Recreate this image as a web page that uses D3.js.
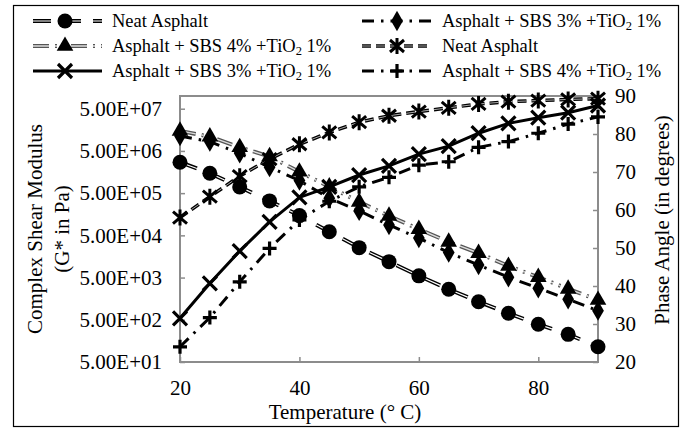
<!DOCTYPE html>
<html><head><meta charset="utf-8">
<script src="https://cdn.jsdelivr.net/npm/d3@7"></script>
<style>body{margin:0;background:#fff}svg{display:block}text{font-family:"Liberation Serif","Times New Roman",serif;fill:#000}</style>
</head><body><svg id="c" width="683" height="428"></svg>
<script>
const temps = [20,25,30,35,40,45,50,55,60,65,70,75,80,85,90];
const gNeat = [2.7e6,1.48e6,7.0e5,3.27e5,1.47e5,6.1e4,2.56e4,1.19e4,5.5e3,2.64e3,1.34e3,713,391,226,115];
const gSbs4 = [1.49e7,1.09e7,6.1e6,3.7e6,1.6e6,7.1e5,3.1e5,1.44e5,7.0e4,3.5e4,1.9e4,9.4e3,5.1e3,2.7e3,1.47e3];
const gSbs3 = [1.13e7,8.3e6,4.4e6,2.06e6,9.9e5,3.8e5,1.9e5,8.8e4,4.3e4,1.95e4,9.9e3,5.1e3,2.8e3,1.53e3,822];
const phNeat = [58,63.5,68.9,73.4,77.3,80.4,83.1,84.8,85.9,86.9,87.9,88.5,88.8,89.1,89.3];
const phSbs3 = [31.5,40.7,49.2,56.9,63.3,66.1,69.2,71.6,74.7,76.8,80.2,82.8,84.3,85.6,87.5];
const phSbs4 = [24.0,31.7,41.1,49.9,57.4,62.3,66.1,68.6,71.8,72.7,76.5,78.0,80.2,82.6,84.5];
const leftTicks = [5e1,5e2,5e3,5e4,5e5,5e6,5e7];
const leftTickLabels = ["5.00E+01","5.00E+02","5.00E+03","5.00E+04","5.00E+05","5.00E+06","5.00E+07"];
const rightTicks = [20,30,40,50,60,70,80,90];
const xTicks = [20,40,60,80];

const svg = d3.select("#c");
const L=180,R=598,T=96,B=362;
const x = d3.scaleLinear().domain([20,90]).range([L,R]);
const yL = d3.scaleLog().domain([50,1e8]).range([B,T]);
const yR = d3.scaleLinear().domain([20,90]).range([B,T]);

// outer border
svg.append("rect").attr("x",13.5).attr("y",5.5).attr("width",665).attr("height",421).attr("fill","none").attr("stroke","#000").attr("stroke-width",1.2);

// plot frame
svg.append("rect").attr("x",L).attr("y",T).attr("width",R-L).attr("height",B-T).attr("fill","none").attr("stroke","#8c8c8c").attr("stroke-width",2);

// axes
const ax = svg.append("g").attr("transform",`translate(0,${B})`).call(d3.axisBottom(x).tickValues(xTicks).tickSizeInner(-5).tickSizeOuter(0).tickPadding(18));
const al = svg.append("g").attr("transform",`translate(${L},0)`).call(d3.axisLeft(yL).tickValues(leftTicks).tickFormat((d,i)=>leftTickLabels[i]).tickSizeInner(-5).tickSizeOuter(0).tickPadding(18));
const ar = svg.append("g").attr("transform",`translate(${R},0)`).call(d3.axisRight(yR).tickValues(rightTicks).tickSizeInner(-5).tickSizeOuter(0).tickPadding(17));
[ax,al,ar].forEach(g=>{g.select(".domain").remove();g.selectAll(".tick line").attr("stroke","#8c8c8c").attr("stroke-width",1.5);g.selectAll("text").attr("font-family","Liberation Serif").attr("font-size",21).attr("fill","#000");});

// axis titles
svg.append("text").attr("transform","translate(42,229) rotate(-90)").attr("text-anchor","middle").attr("font-size",21).text("Complex Shear Modulus");
svg.append("text").attr("transform","translate(69,229) rotate(-90)").attr("text-anchor","middle").attr("font-size",21).text("(G* in Pa)");
svg.append("text").attr("transform","translate(669,220) rotate(-90)").attr("text-anchor","middle").attr("font-size",21).text("Phase Angle (in degrees)");
svg.append("text").attr("x",345).attr("y",419).attr("text-anchor","middle").attr("font-size",21).text("Temperature (° C)");

// markers
function marker(g,type,cx,cy){
  if(type==="circle") g.append("circle").attr("cx",cx).attr("cy",cy).attr("r",7.5).attr("fill","#000");
  else if(type==="triangle") g.append("path").attr("d",d3.symbol(d3.symbolTriangle,120)()).attr("transform",`translate(${cx},${cy})`).attr("fill","#000");
  else if(type==="diamond") g.append("path").attr("d",d3.symbol(d3.symbolDiamond,120)()).attr("transform",`translate(${cx},${cy})`).attr("fill","#000");
  else if(type==="x") g.append("path").attr("d","M-7,-7L7,7M-7,7L7,-7").attr("transform",`translate(${cx},${cy})`).attr("stroke","#000").attr("stroke-width",3.2).attr("fill","none");
  else if(type==="plus") g.append("path").attr("d","M-7,0L7,0M0,-7L0,7").attr("transform",`translate(${cx},${cy})`).attr("stroke","#000").attr("stroke-width",3.2).attr("fill","none");
  else if(type==="star") g.append("path").attr("d","M0,-8L0,8M-7,-6L7,6M-7,6L7,-6").attr("transform",`translate(${cx},${cy})`).attr("stroke","#000").attr("stroke-width",3).attr("fill","none");
}

const series = [
  {name:"Neat Asphalt", vals:gNeat, axis:"L", m:"circle", outer:"#000", inner:"#fff", w:4, wi:1.2, dash:"18,12"},
  {name:"Asphalt + SBS 4% +TiO|2| 1%", vals:gSbs4, axis:"L", m:"triangle", outer:"#555", inner:"#ddd", w:4, wi:1.4, dash:"16,6,2,6,2,6"},
  {name:"Asphalt + SBS 3% +TiO|2| 1%", vals:phSbs3, axis:"R", m:"x", outer:"#000", inner:null, w:3, dash:null},
  {name:"Asphalt + SBS 3% +TiO|2| 1%", vals:gSbs3, axis:"L", m:"diamond", outer:"#000", inner:null, w:3, dash:"12,7,2.5,7"},
  {name:"Neat Asphalt", vals:phNeat, axis:"R", m:"star", outer:"#000", inner:"#aaa", w:3.5, wi:1, dash:"9,5"},
  {name:"Asphalt + SBS 4% +TiO|2| 1%", vals:phSbs4, axis:"R", m:"plus", outer:"#000", inner:null, w:3, dash:"12,7,2.5,7"}
];

const plot = svg.append("g");
series.forEach(s=>{
  const yS = s.axis==="L"?yL:yR;
  const line = d3.line().x((d,i)=>x(temps[i])).y(d=>yS(d));
  const p = plot.append("path").datum(s.vals).attr("d",line).attr("fill","none").attr("stroke",s.outer).attr("stroke-width",s.w);
  if(s.dash) p.attr("stroke-dasharray",s.dash);
  if(s.inner){const q=plot.append("path").datum(s.vals).attr("d",line).attr("fill","none").attr("stroke",s.inner).attr("stroke-width",s.wi); if(s.dash) q.attr("stroke-dasharray",s.dash);}
});
series.forEach(s=>{
  const yS = s.axis==="L"?yL:yR;
  const g = plot.append("g");
  s.vals.forEach((v,i)=>marker(g,s.m,x(temps[i]),yS(v)));
});

// legend
const legPos = [[0,0],[0,1],[0,2],[1,0],[1,1],[1,2]];
const lineX0=[33,362], lineX1=[102,432], markX=[65,397], textX=[112,442], rowY=[21,46,71];
series.forEach((s,k)=>{
  const [c,r]=legPos[k];
  const g=svg.append("g");
  const y0=rowY[r];
  const l=g.append("line").attr("x1",lineX0[c]).attr("x2",lineX1[c]).attr("y1",y0).attr("y2",y0).attr("stroke",s.outer).attr("stroke-width",s.w);
  if(s.dash) l.attr("stroke-dasharray",s.dash);
  if(s.inner){const q=g.append("line").attr("x1",lineX0[c]).attr("x2",lineX1[c]).attr("y1",y0).attr("y2",y0).attr("stroke",s.inner).attr("stroke-width",s.wi); if(s.dash) q.attr("stroke-dasharray",s.dash);}
  marker(g,s.m,markX[c],y0);
  const parts=s.name.split("|");
  const t=g.append("text").attr("x",textX[c]).attr("y",y0+6).attr("font-size",18.5);
  parts.forEach((p,i)=>{ if(i===1) t.append("tspan").attr("font-size",12.5).attr("dy",3).text(p); else if(i===2) t.append("tspan").attr("dy",-3).text(p); else t.append("tspan").text(p);});
});
</script></body></html>
